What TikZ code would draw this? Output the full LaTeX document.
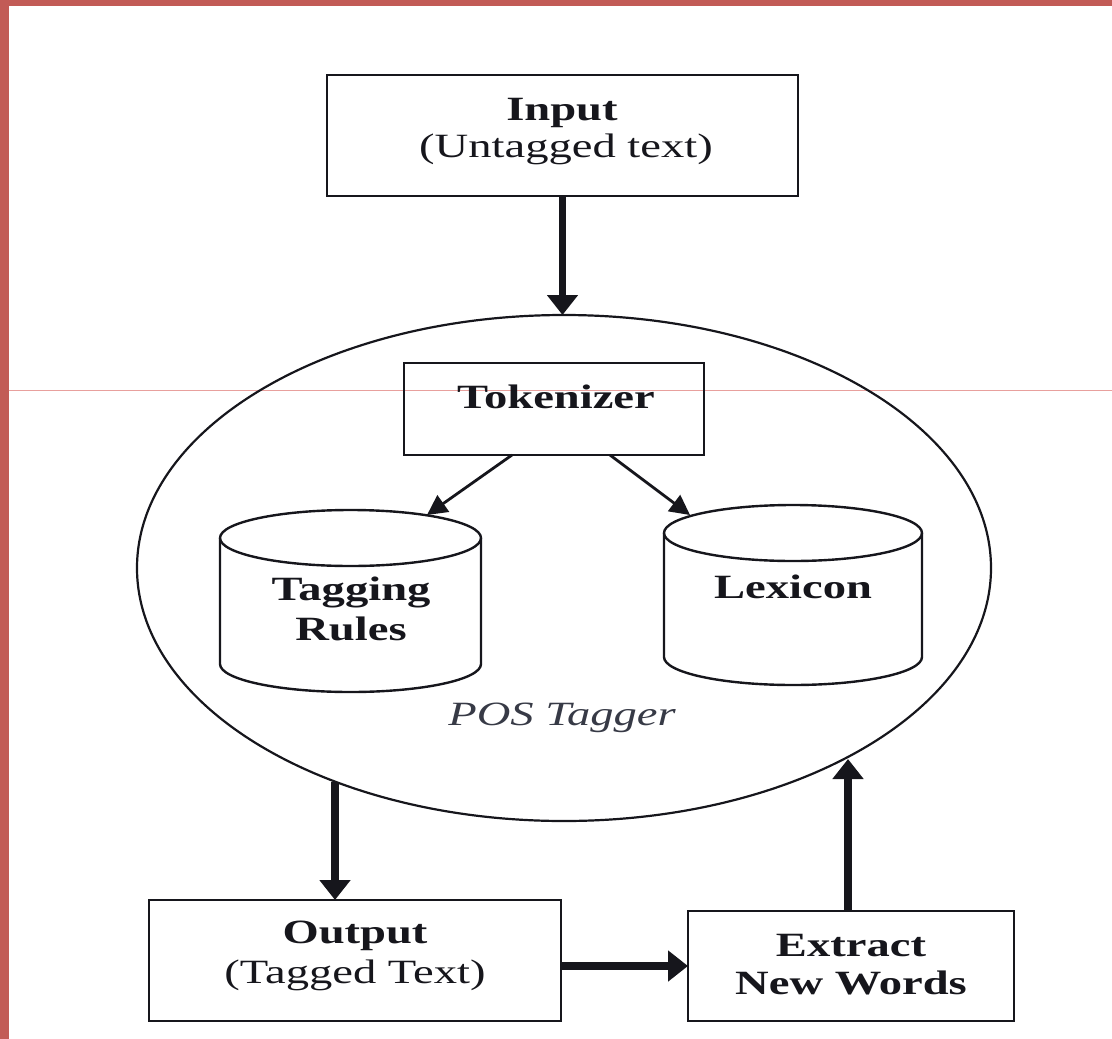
\documentclass[tikz,border=0pt]{standalone}
\usepackage{fontspec}
\setmainfont{Liberation Serif}[FakeStretch=1.37]
\usetikzlibrary{shapes.geometric,arrows.meta,calc}
\definecolor{bordercol}{RGB}{194,91,86}
\definecolor{guidecol}{RGB}{232,160,157}
\definecolor{inkcol}{RGB}{22,22,28}
\definecolor{poscol}{RGB}{55,58,70}
\begin{document}
\begin{tikzpicture}[x=1pt,y=-1pt,
  box/.style={draw=inkcol, line width=2.4pt, inner sep=0pt, outer sep=0pt},
  big/.style={draw=inkcol, line width=7.5pt, -{Triangle[width=30pt,length=20pt]}},
  small/.style={draw=inkcol, line width=2.8pt, -{Triangle[width=20pt,length=20pt]}},
  bt/.style={anchor=base, inner sep=0pt, text=inkcol, font=\fontsize{34}{38}\selectfont\bfseries},
  rt/.style={anchor=base, inner sep=0pt, text=inkcol, font=\fontsize{34}{38}\selectfont},
  cyl/.style={draw=inkcol, line width=2.4pt}
]
\useasboundingbox (0,0) rectangle (1112,1039);
% page decorations
\fill[bordercol] (0,0) rectangle (8.7,1039);
\fill[bordercol] (0,0) rectangle (1112,6);
\draw[guidecol, line width=1pt] (8.7,390) -- (1112,390);

% POS tagger ellipse
\node[draw=inkcol, ellipse, line width=2.2pt, inner sep=0pt, outer sep=0pt,
      minimum width=854, minimum height=506] (tagger) at (564,568) {};

% boxes
\node[box, minimum width=471, minimum height=121] (input) at (562.5,135.5) {};
\node[box, minimum width=300, minimum height=92] (tok) at (554,409) {};
\node[box, minimum width=412, minimum height=121] (output) at (355,960.5) {};
\node[box, minimum width=326, minimum height=110] (extract) at (851,966) {};

% texts
\node[bt] (inputT) at (562,120) {Input};
\node[rt] (inputS) at (566,157) {(Untagged text)};
\node[bt] (tokT) at (556,408) {Tokenizer};
\node[bt] (outT) at (355,943) {Output};
\node[rt] (outS) at (355,983) {(Tagged Text)};
\node[bt] (extT) at (851,956) {Extract};
\node[bt] (extS) at (851,994) {New Words};
\node[anchor=base, inner sep=0pt, text=poscol, font=\fontsize{34}{38}\selectfont\itshape] (posT) at (562,725) {POS Tagger};

% Tagging Rules cylinder
\draw[cyl] (350.5,538) ellipse [x radius=130.5, y radius=28];
\draw[cyl] (220,538) -- (220,664) arc[start angle=180, end angle=0, x radius=130.5, y radius=28] -- (481,538);
\node[bt] (trT) at (351,600) {Tagging};
\node[bt] (trS) at (351,640) {Rules};
\coordinate (trTop) at (427,515);

% Lexicon cylinder
\draw[cyl] (793,533) ellipse [x radius=129, y radius=28];
\draw[cyl] (664,533) -- (664,657) arc[start angle=180, end angle=0, x radius=129, y radius=28] -- (922,533);
\node[bt] (lexT) at (793,598) {Lexicon};
\coordinate (lexTop) at (690,515);

% connectors
\draw[big] (input.south) -- (input.south |- tagger.north);
\draw[small] ($(tok.south)+(-42,0)$) -- (trTop);
\draw[small] ($(tok.south)+(56,0)$) -- (lexTop);
\coordinate (outA) at (335,782);
\draw[big] (outA) -- (outA |- output.north);
\draw[big] (output.east |- extract.west) -- (extract.west);
\coordinate (backB) at (848,759);
\draw[big] (backB |- extract.north) -- (backB);
\end{tikzpicture}
\end{document}
